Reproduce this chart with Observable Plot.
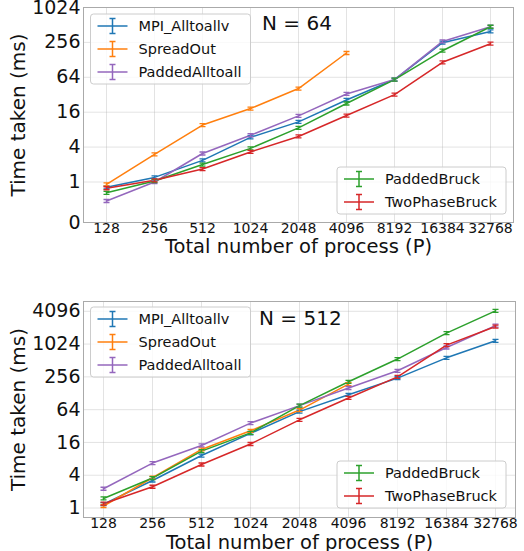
<!DOCTYPE html>
<html>
<head>
<meta charset="utf-8">
<script src="https://cdn.jsdelivr.net/npm/d3@7"></script>
<script src="https://cdn.jsdelivr.net/npm/@observablehq/plot@0.6"></script>
<style>
  html, body { margin: 0; padding: 0; background: white; }
  #chart svg { display: block; }
</style>
</head>
<body>
<div id="chart"></div>
<script>
// ---- data ----
const processes = [128, 256, 512, 1024, 2048, 4096, 8192, 16384, 32768];
const seriesNames = ["MPI_Alltoallv", "SpreadOut", "PaddedAlltoall", "PaddedBruck", "TwoPhaseBruck"];
const seriesColors = ["#1f77b4", "#ff7f0e", "#9467bd", "#2ca02c", "#d62728"];

// N = 64
const mpiTop        = [0.81, 1.2, 2.36, 5.9, 10.9, 26, 58.5, 253, 396];
const spreadTop     = [0.91, 3.0, 9.6, 18.5, 40.9, 168];
const paddedA2ATop  = [0.47, 1.0, 3.1, 6.4, 13.8, 33, 58.5, 266, 477];
const paddedBrTop   = [0.65, 1.04, 2.0, 3.8, 8.6, 22.6, 58.5, 184, 477];
const twoPhaseTop   = [0.78, 1.07, 1.67, 3.3, 6.1, 14, 32.2, 116, 243];

// N = 512
const mpiBot        = [1.18, 3.2, 9.2, 23.5, 59, 120, 243, 573, 1177];
const spreadBot     = [1.09, 3.6, 11.9, 26.2, 63, 189];
const paddedA2ABot  = [2.26, 6.7, 14.1, 36.3, 76, 160, 331, 886, 2240];
const paddedBrBot   = [1.5, 3.55, 11.1, 24, 76, 208, 544, 1630, 4180];
const twoPhaseBot   = [1.2, 2.46, 6.3, 15, 41.7, 105, 256, 982, 2150];

const topTicks = [0.2, 1, 4, 16, 64, 256, 1024];
const botTicks = [1, 4, 16, 64, 256, 1024, 4096];
const topTitle = "N = 64";
const botTitle = "N = 512";
const yLabel = "Time taken (ms)";
const xLabel = "Total number of process (P)";

function makeTable(lists) {
  const rows = [];
  lists.forEach((vals, k) => vals.forEach((v, i) => rows.push({P: processes[i], T: v, name: seriesNames[k]})));
  return rows;
}

const capSymbol = {
  draw(ctx) {
    const w = 3, h = 1.5;
    ctx.moveTo(-w, -h); ctx.lineTo(w, -h);
    ctx.moveTo(-w, h); ctx.lineTo(w, h);
    ctx.moveTo(0, -h); ctx.lineTo(0, h);
  }
};

function addLegend(svg, x, y, w, h, names) {
  const g = d3.select(svg).append("g");
  g.append("rect").attr("x", x).attr("y", y).attr("width", w).attr("height", h)
    .attr("rx", 3).attr("fill", "white").attr("fill-opacity", 0.8)
    .attr("stroke", "#cccccc").attr("stroke-width", 1);
  names.forEach((name, i) => {
    const color = seriesColors[seriesNames.indexOf(name)];
    const cy = y + 12 + i * 23;
    const gx = x + 22;
    g.append("line").attr("x1", x + 7).attr("x2", x + 37).attr("y1", cy).attr("y2", cy)
      .attr("stroke", color).attr("stroke-width", 1.5);
    g.append("line").attr("x1", gx).attr("x2", gx).attr("y1", cy - 7.5).attr("y2", cy + 7.5)
      .attr("stroke", color).attr("stroke-width", 1.5);
    [cy - 7.5, cy + 7.5].forEach(yy =>
      g.append("line").attr("x1", gx - 3).attr("x2", gx + 3).attr("y1", yy).attr("y2", yy)
        .attr("stroke", color).attr("stroke-width", 1.5));
    g.append("text").attr("x", x + 48).attr("y", cy).attr("dy", "0.35em")
      .attr("text-anchor", "start")
      .attr("font-size", 14.5).attr("fill", "#111").text(name);
  });
}

function makeChart(o) {
  const table = makeTable(o.lists);
  const svg = Plot.plot({
    width: 524,
    height: o.height,
    marginLeft: 83,
    marginRight: o.marginRight,
    marginTop: o.marginTop,
    marginBottom: o.marginBottom,
    style: {fontFamily: "DejaVu Sans", background: "white", color: "#111", overflow: "visible"},
    x: {type: "point", domain: processes, padding: 0.39},
    y: {type: "log", base: 2, domain: o.yDomain},
    color: {domain: seriesNames, range: seriesColors},
    marks: [
      Plot.gridX(processes, {stroke: "#b0b0b0", strokeOpacity: 0.35}),
      Plot.gridY(o.yTicks, {stroke: "#b0b0b0", strokeOpacity: 0.35}),
      Plot.axisX(processes, {tickSize: 0, tickPadding: 1, fontSize: 14, tickFormat: d => String(d), label: null}),
      Plot.axisY(o.yTicks, {tickSize: 0, tickPadding: 3, fontSize: 19, tickFormat: "d", label: null}),
      Plot.frame({stroke: "#aaaaaa"}),
      Plot.line(table, {x: "P", y: "T", z: "name", stroke: "name", strokeWidth: 1.5}),
      Plot.dot(table, {x: "P", y: "T", stroke: "name", fill: "none", symbol: capSymbol, r: 3, strokeWidth: 1.3}),
      Plot.text([yLabel], {frameAnchor: "left", textAnchor: "middle", lineAnchor: "middle", rotate: -90, dx: -65, fontSize: 20, fill: "#111"}),
      Plot.text([xLabel], {frameAnchor: "bottom", textAnchor: "middle", lineAnchor: "middle", dy: o.xLabelDy, fontSize: 19.5, fill: "#111"})
    ]
  });
  d3.select(svg).append("text").attr("x", o.titleX).attr("y", o.titleY).attr("dy", "0.35em")
    .attr("text-anchor", "start")
    .attr("font-size", 20).attr("fill", "#111").text(o.title);
  addLegend(svg, 90.5, o.legA, 160, 70, seriesNames.slice(0, 3));
  addLegend(svg, 337, o.legB, 169, 47, seriesNames.slice(3));
  return svg;
}

const root = document.getElementById("chart");
root.appendChild(makeChart({
  lists: [mpiTop, spreadTop, paddedA2ATop, paddedBrTop, twoPhaseTop],
  height: 262, marginTop: 7, marginBottom: 40, marginRight: 11,
  yDomain: [0.2, 1024], yTicks: topTicks, xLabelDy: 24,
  title: topTitle, titleX: 262, titleY: 23, legA: 14, legB: 167
}));
root.appendChild(makeChart({
  lists: [mpiBot, spreadBot, paddedA2ABot, paddedBrBot, twoPhaseBot],
  height: 289, marginTop: 39, marginBottom: 34, marginRight: 9,
  yDomain: [0.67, 6200], yTicks: botTicks, xLabelDy: 25,
  title: botTitle, titleX: 259, titleY: 56, legA: 45, legB: 199
}));
</script>
</body>
</html>
